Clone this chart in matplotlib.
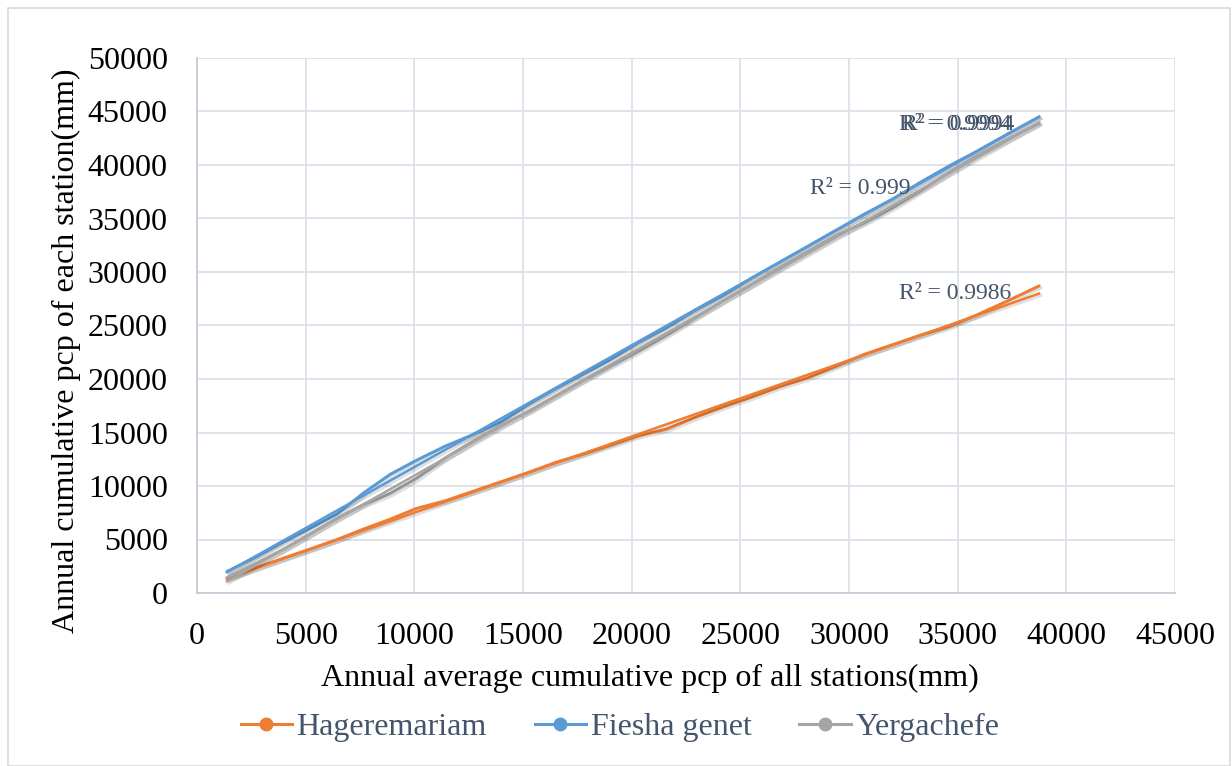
import numpy as np
import matplotlib
matplotlib.use("Agg")
import matplotlib.pyplot as plt
from matplotlib import patheffects as pe
from matplotlib.lines import Line2D
from matplotlib.patches import Rectangle

# ---- data ----
avg_cum = [1380, 2650, 3900, 5200, 6450, 7700, 8900, 10100, 11400, 12700,
           14000, 15300, 16500, 17800, 19000, 20300, 21600, 22900, 24200, 25500,
           26800, 28100, 29400, 30700, 32000, 33300, 34600, 35900, 37300, 38750]
hageremariam = [1330, 2300, 3200, 4100, 5000, 6000, 6900, 7900, 8600, 9500,
                10400, 11300, 12200, 13000, 13800, 14700, 15300, 16400, 17400, 18300,
                19300, 20100, 21200, 22300, 23200, 24100, 24900, 26000, 27300, 28700]
fiesha_genet = [2000, 3300, 4700, 6050, 7400, 9400, 11100, 12400, 13700, 14800,
                16000, 17700, 19100, 20500, 21800, 23400, 24800, 26400, 27800, 29400,
                30900, 32400, 33900, 35400, 36800, 38400, 39900, 41300, 42900, 44500]
yergachefe = [1450, 2700, 4000, 5500, 7000, 8300, 9300, 10700, 12600, 14200,
              15700, 17000, 18400, 19900, 21200, 22600, 24100, 25700, 27300, 28800,
              30400, 31900, 33400, 34600, 36000, 37600, 39300, 40900, 42400, 43900]
series_names = ["Hageremariam", "Fiesha genet", "Yergachefe"]
series_colors = ["#ED7D31", "#5B9BD5", "#A5A5A5"]
r2_labels = ["R² = 0.9986", "R² = 0.9994", "R² = 0.999"]

xticks = list(range(0, 45001, 5000))
yticks = list(range(0, 50001, 5000))

plt.rcParams['font.family'] = ['Liberation Serif', 'DejaVu Serif']

fig = plt.figure(figsize=(12.32, 7.66), dpi=100)
ax = fig.add_axes([197/1232, 1-593/766, (1175-197)/1232, (593-58)/766])

# chart border
fig.patches.append(Rectangle((8/1232, 0.0), (1230-8)/1232, 1-8/766,
                             transform=fig.transFigure, fill=False,
                             edgecolor="#D9D9D9", linewidth=1.2))

x = np.array(avg_cum, dtype=float)
shadow = [pe.SimpleLineShadow(offset=(1.5, -1.5), shadow_color="#000000", alpha=0.12), pe.Normal()]
for ys, col in zip([hageremariam, fiesha_genet, yergachefe], series_colors):
    y = np.array(ys, dtype=float)
    ax.plot(x, y, color=col, linewidth=2.2, solid_capstyle='round', solid_joinstyle='round',
            path_effects=shadow, zorder=3)
    m, b = np.polyfit(x, y, 1)
    ax.plot([x[0], x[-1]], [m*x[0]+b, m*x[-1]+b], color=col, linewidth=1.8,
            path_effects=shadow, zorder=3)

ax.set_xlim(0, 45000)
ax.set_ylim(0, 50000)
ax.set_xticks(xticks)
ax.set_yticks(yticks)
ax.tick_params(axis='both', length=0, labelsize=23, colors="black")
ax.tick_params(axis='x', pad=21)
ax.tick_params(axis='y', pad=21)
ax.grid(True, color="#DDE1E8", linewidth=1.3)
ax.set_axisbelow(True)
for s in ['top', 'right']:
    ax.spines[s].set_visible(False)
for s in ['left', 'bottom']:
    ax.spines[s].set_color("#C5CCD8")
    ax.spines[s].set_linewidth(1.3)

ax.set_xlabel("Annual average cumulative pcp of all stations(mm)", fontsize=23)
ax.set_ylabel("Annual cumulative pcp of each station(mm)", fontsize=23)
ax.xaxis.set_label_coords(0.463, -0.133)
ax.yaxis.set_label_coords(-0.119, 0.452)

# R² labels
lab_col = "#44546A"
ax.text(32300, 43800, r2_labels[1], fontsize=17, color=lab_col, va='center', ha='left')
ax.text(32450, 43800, r2_labels[1], fontsize=17, color=lab_col, va='center', ha='left')
ax.text(28200, 37850, r2_labels[2], fontsize=17, color=lab_col, va='center', ha='left')
ax.text(32300, 28000, r2_labels[0], fontsize=17, color=lab_col, va='center', ha='left')

handles = [Line2D([0], [0], color=c, linewidth=2.2, marker='o', markersize=9,
                  markerfacecolor=c, markeredgecolor=c) for c in series_colors]
leg = fig.legend(handles, series_names, loc='center', bbox_to_anchor=(620/1232, 1-727/766),
                 ncol=3, frameon=False, fontsize=23, handlelength=1.6, handletextpad=0.15,
                 columnspacing=1.5)
for t in leg.get_texts():
    t.set_color(lab_col)

fig.savefig("out.png", dpi=100)
